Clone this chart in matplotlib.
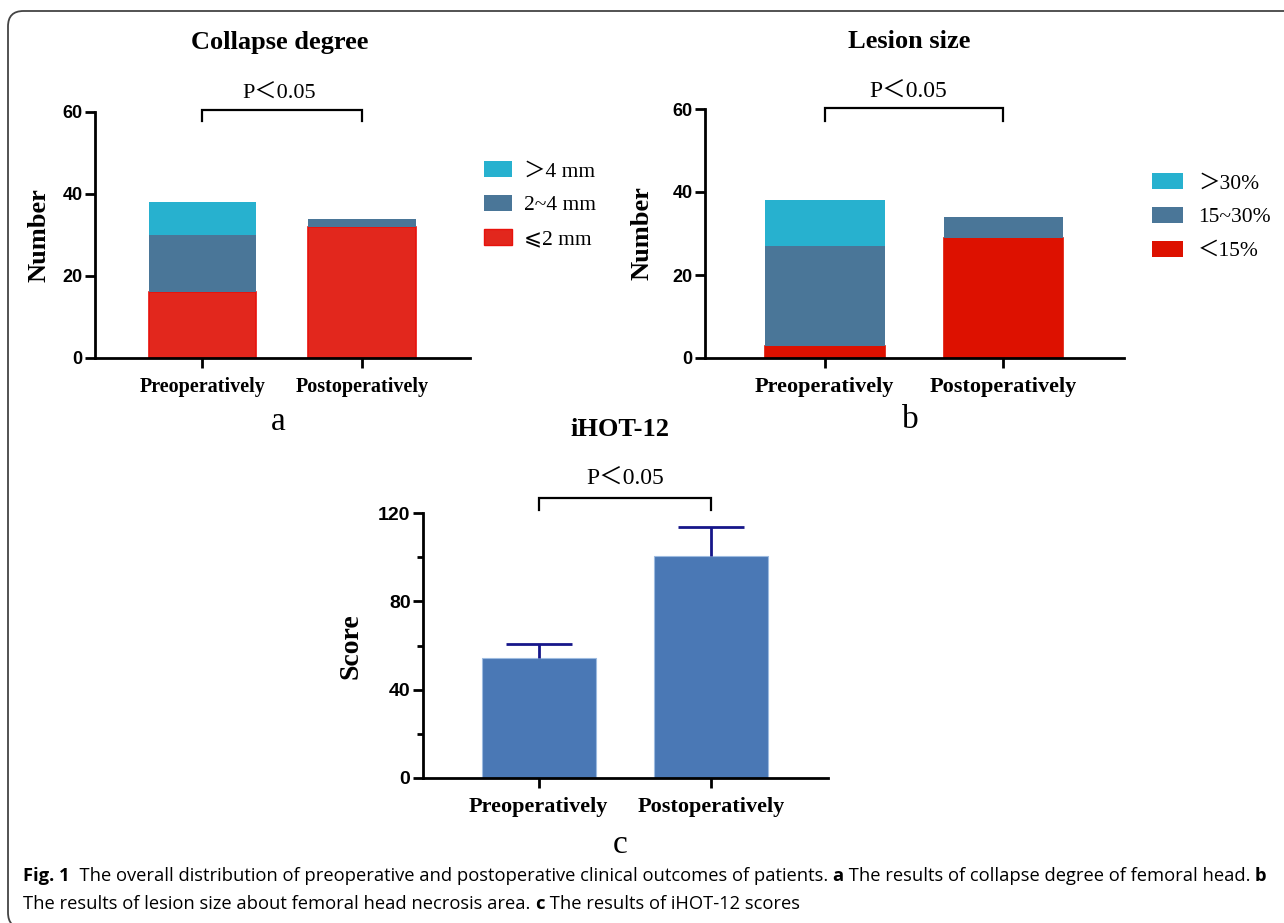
import matplotlib
matplotlib.use('Agg')
import matplotlib.pyplot as plt
from matplotlib.patches import Patch, FancyBboxPatch
import numpy as np

W, H = 1284, 923

groups = ['Preoperatively', 'Postoperatively']

# panel a - collapse degree (counts, bottom to top)
collapse_labels = ['\u2a7d2 mm', '2~4 mm', '\uff1e4 mm']
collapse_small = [16, 32]
collapse_mid = [14, 2]
collapse_big = [8, 0]

# panel b - lesion size
lesion_labels = ['\uff1c15%', '15~30%', '\uff1e30%']
lesion_small = [3, 29]
lesion_mid = [24, 5]
lesion_big = [11, 0]

# panel c - iHOT-12
ihot_mean = [54.3, 100.5]
ihot_sd = [6.4, 13.2]

CYAN = '#27b1cf'
STEEL = '#4a7698'
RED_A = '#e2271d'
RED_B = '#dd1100'
BAR_C = '#4a78b5'
ERR_C = '#16168a'

SERIF = ['Liberation Serif', 'DejaVu Serif', 'Noto Sans CJK SC']
SANS = ['Liberation Sans', 'DejaVu Sans']
SYM = ['Liberation Serif', 'Noto Sans CJK SC', 'DejaVu Serif', 'DejaVu Sans']

fig = plt.figure(figsize=(W / 100, H / 100), dpi=100)


def px_axes(left, right, bottom, top):
    return fig.add_axes([left / W, 1 - bottom / H, (right - left) / W, (bottom - top) / H])


def style_axes(ax, ymax, step, xsize, ysize):
    for s in ['top', 'right']:
        ax.spines[s].set_visible(False)
    for s in ['left', 'bottom']:
        ax.spines[s].set_linewidth(2)
    ax.set_xlim(-0.67, 1.675)
    ax.set_ylim(0, ymax)
    ax.set_yticks(np.arange(0, ymax + 1, step))
    ax.set_xticks([0, 1])
    ax.set_xticklabels(groups, family=SERIF, fontweight='bold', fontsize=xsize)
    for lab in ax.get_yticklabels():
        lab.set_family(SANS)
        lab.set_fontweight('bold')
        lab.set_fontsize(ysize)
    ax.tick_params(axis='both', which='major', direction='out', length=7, width=2)
    ax.tick_params(axis='x', pad=7)
    ax.tick_params(axis='y', pad=2)


def bracket(ax, y_top, y_leg, text, tx, ty, size):
    ax.plot([0, 0, 1, 1], [y_leg, y_top, y_top, y_leg], color='black', lw=1.6,
            clip_on=False, solid_joinstyle='miter')
    fig.text(tx / W, 1 - ty / H, text, family=SYM, fontsize=size, ha='center', va='center')


def stacked(ax, small, mid, big, labels, red, edge):
    x = np.arange(len(groups))
    ax.bar(x, small, width=0.67, color=red, edgecolor=edge, linewidth=1.2)
    ax.bar(x, mid, width=0.67, bottom=small, color=STEEL)
    bottom2 = np.array(small) + np.array(mid)
    ax.bar(x, big, width=0.67, bottom=bottom2, color=CYAN)
    return labels[::-1]


# ---- panel a
axa = px_axes(95, 470, 358, 112)
l = stacked(axa, collapse_small, collapse_mid, collapse_big, collapse_labels, RED_A, '#e8120c')
style_axes(axa, 60, 20, 14.5, 13)
bracket(axa, 60.5, 57.8, 'P\uff1c0.05', 279, 94, 16)
axa.legend([Patch(facecolor=CYAN), Patch(facecolor=STEEL), Patch(facecolor=RED_A, edgecolor='#e8120c')],
           l, loc='center left', bbox_to_anchor=(473 / W, 1 - 205 / H),
           bbox_transform=fig.transFigure, frameon=False, borderpad=0,
           handlelength=1.3, handleheight=0.77, handletextpad=0.55, labelspacing=0.62,
           prop={'family': SYM, 'size': 15.5})
fig.text(280 / W, 1 - 42 / H, 'Collapse degree', family=SERIF, fontweight='bold', fontsize=19,
         ha='center', va='center')
fig.text(39 / W, 1 - 235 / H, 'Number', family=SERIF, fontweight='bold', fontsize=19,
         rotation=90, ha='center', va='center')
fig.text(278 / W, 1 - 422 / H, 'a', family=SERIF, fontsize=24, ha='center', va='center')

# ---- panel b
axb = px_axes(705, 1124, 358, 109)
l = stacked(axb, lesion_small, lesion_mid, lesion_big, lesion_labels, RED_B, RED_B)
style_axes(axb, 60, 20, 16, 13)
bracket(axb, 60.2, 57.0, 'P\uff1c0.05', 908, 91, 17)
axb.legend([Patch(facecolor=CYAN), Patch(facecolor=STEEL), Patch(facecolor=RED_B)],
           l, loc='center left', bbox_to_anchor=(1141 / W, 1 - 217 / H),
           bbox_transform=fig.transFigure, frameon=False, borderpad=0,
           handlelength=1.45, handleheight=0.77, handletextpad=0.7, labelspacing=0.62,
           prop={'family': SYM, 'size': 15.5})
fig.text(909 / W, 1 - 42 / H, 'Lesion size', family=SERIF, fontweight='bold', fontsize=19,
         ha='center', va='center')
fig.text(642 / W, 1 - 233 / H, 'Number', family=SERIF, fontweight='bold', fontsize=19,
         rotation=90, ha='center', va='center')
fig.text(910 / W, 1 - 420 / H, 'b', family=SERIF, fontsize=24, ha='center', va='center')

# ---- panel c
axc = px_axes(423, 828, 778, 513)
xc = np.arange(len(groups))
axc.bar(xc, ihot_mean, width=0.66, color=BAR_C, edgecolor='#9dbbe0', linewidth=0.8)
eb = axc.errorbar(xc, ihot_mean, yerr=[np.zeros(2), ihot_sd], fmt='none', ecolor=ERR_C,
                  elinewidth=2, capsize=24, capthick=2)
eb[1][0].set_visible(False)  # no cap at the bar top
style_axes(axc, 120, 40, 16, 14)
axc.set_yticks([20, 60, 100], minor=True)
axc.tick_params(axis='y', which='minor', length=4, width=2)
bracket(axc, 126.8, 121.4, 'P\uff1c0.05', 625, 478, 17)
fig.text(620 / W, 1 - 430 / H, 'iHOT-12', family=SERIF, fontweight='bold', fontsize=19,
         ha='center', va='center')
fig.text(351 / W, 1 - 646 / H, 'Score', family=SERIF, fontweight='bold', fontsize=20,
         rotation=90, ha='center', va='center')
fig.text(620 / W, 1 - 845 / H, 'c', family=SERIF, fontsize=24, ha='center', va='center')

# ---- caption
CAP = ['Open Sans', 'DejaVu Sans']
line1 = [('Fig. 1', True),
         ('  The overall distribution of preoperative and postoperative clinical outcomes of patients. ', False),
         ('a', True), (' The results of collapse degree of femoral head. ', False), ('b', True)]
line2 = [('The results of lesion size about femoral head necrosis area. ', False), ('c', True),
         (' The results of iHOT-12 scores', False)]

renderer = fig.canvas.get_renderer()


def place_line(parts, x0, y, size, draw=True):
    x = x0
    for txt, bold in parts:
        t = fig.text(x / W, 1 - y / H, txt, family=CAP, fontsize=size,
                     fontweight='bold' if bold else 'normal', va='center', ha='left')
        x += t.get_window_extent(renderer).width
        if not draw:
            t.remove()
    return x - x0


w12 = place_line(line1, 23, 876, 12, draw=False)
cap_size = 12 * 1234 / w12
place_line(line1, 23, 876, cap_size)
place_line(line2, 23, 904, cap_size)

# ---- rounded frame
frame = FancyBboxPatch((8 / W, 1 - 928 / H), 1400 / W, (928 - 11) / H,
                       boxstyle='round,pad=0,rounding_size=0.012',
                       transform=fig.transFigure, fill=False, edgecolor='#444444', lw=1.3,
                       mutation_aspect=W / H)
fig.patches.append(frame)

fig.savefig('out.png', dpi=100)
